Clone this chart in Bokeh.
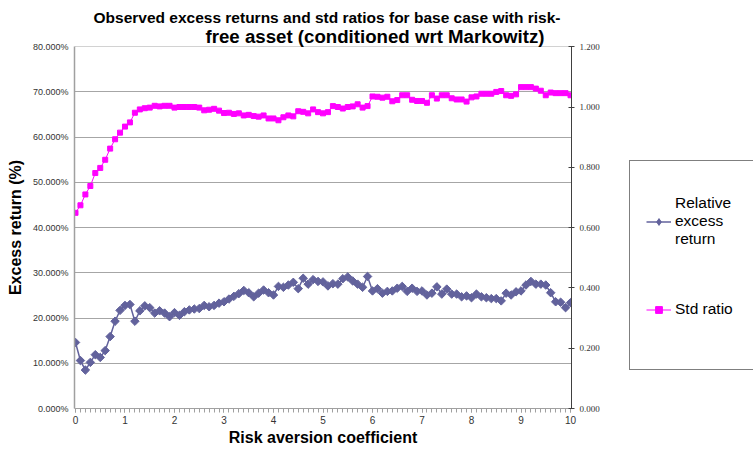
from bokeh.plotting import figure
from bokeh.layouts import row
from bokeh.models import (Range1d, LinearAxis, NumeralTickFormatter, Title, Legend,
                          LegendItem, ColumnDataSource, SingleIntervalTicker)
from bokeh.embed import file_html
from bokeh.resources import INLINE

# ---------------- data ----------------
risk_aversion = [0.0, 0.1, 0.2, 0.3, 0.4, 0.5, 0.6, 0.7, 0.8, 0.9,
                 1.0, 1.1, 1.2, 1.3, 1.4, 1.5, 1.6, 1.7, 1.8, 1.9,
                 2.0, 2.1, 2.2, 2.3, 2.4, 2.5, 2.6, 2.7, 2.8, 2.9,
                 3.0, 3.1, 3.2, 3.3, 3.4, 3.5, 3.6, 3.7, 3.8, 3.9,
                 4.0, 4.1, 4.2, 4.3, 4.4, 4.5, 4.6, 4.7, 4.8, 4.9,
                 5.0, 5.1, 5.2, 5.3, 5.4, 5.5, 5.6, 5.7, 5.8, 5.9,
                 6.0, 6.1, 6.2, 6.3, 6.4, 6.5, 6.6, 6.7, 6.8, 6.9,
                 7.0, 7.1, 7.2, 7.3, 7.4, 7.5, 7.6, 7.7, 7.8, 7.9,
                 8.0, 8.1, 8.2, 8.3, 8.4, 8.5, 8.6, 8.7, 8.8, 8.9,
                 9.0, 9.1, 9.2, 9.3, 9.4, 9.5, 9.6, 9.7, 9.8, 9.9, 10.0]

# relative excess return, in percent
excess_return_pct = [14.6, 10.6, 8.5, 10.2, 11.9, 11.3, 12.8, 15.9, 19.3, 21.7,
                     22.8, 23.0, 19.3, 21.6, 22.7, 22.3, 21.1, 21.6, 21.1, 20.3,
                     21.2, 20.6, 21.4, 21.8, 22.0, 22.1, 22.8, 22.5, 22.8, 23.3,
                     23.6, 24.2, 24.8, 25.4, 26.1, 25.6, 24.7, 25.5, 26.2, 25.6,
                     25.1, 27.0, 26.8, 27.3, 27.9, 26.5, 28.8, 27.5, 28.5, 28.1,
                     28.0, 27.1, 27.6, 27.5, 28.7, 29.1, 28.2, 27.5, 26.8, 29.2,
                     26.0, 26.5, 25.5, 25.9, 26.0, 26.6, 27.0, 25.9, 26.6, 25.9,
                     26.0, 25.1, 25.5, 26.9, 25.3, 26.4, 25.3, 25.3, 24.7, 24.9,
                     24.5, 25.3, 24.7, 24.5, 24.3, 24.3, 23.8, 25.5, 25.1, 25.8,
                     26.0, 27.3, 28.1, 27.5, 27.5, 27.3, 25.6, 23.6, 23.5, 22.3, 23.4]

std_ratio = [0.649, 0.674, 0.710, 0.738, 0.781, 0.798, 0.825, 0.862, 0.893, 0.915,
             0.935, 0.949, 0.981, 0.992, 0.996, 0.998, 1.004, 1.002, 1.004, 1.004,
             0.998, 1.000, 1.000, 1.000, 1.000, 0.998, 0.989, 0.991, 0.994, 0.988,
             0.980, 0.981, 0.977, 0.979, 0.972, 0.974, 0.970, 0.968, 0.972, 0.962,
             0.962, 0.956, 0.966, 0.972, 0.969, 0.986, 0.984, 0.979, 0.992, 0.983,
             0.979, 0.983, 1.003, 1.000, 0.995, 1.000, 1.002, 1.009, 0.998, 1.003,
             1.035, 1.034, 1.031, 1.034, 1.019, 1.023, 1.039, 1.039, 1.024, 1.020,
             1.020, 1.014, 1.039, 1.028, 1.039, 1.039, 1.029, 1.025, 1.025, 1.018,
             1.032, 1.035, 1.044, 1.044, 1.044, 1.050, 1.053, 1.039, 1.037, 1.042,
             1.066, 1.066, 1.066, 1.061, 1.054, 1.039, 1.048, 1.046, 1.046, 1.046, 1.039]

title_line1 = "Observed excess returns and std ratios for base case with risk-"
title_line2 = "free asset  (conditioned wrt Markowitz)"
x_title = "Risk aversion coefficient"
y_title = "Excess return (%)"
series_names = ["Relative\nexcess\nreturn", "Std ratio"]

BLUE = "#62629C"
PINK = "#FF00FF"
FONT = "Liberation Sans"

src = ColumnDataSource(dict(
    x=risk_aversion,
    ret=[v / 100.0 for v in excess_return_pct],
    std=std_ratio,
))

# ---------------- main figure ----------------
p = figure(width=605, height=449, output_backend="svg", toolbar_location=None,
           x_range=Range1d(-0.02, 10.02), y_range=Range1d(0, 0.8005),
           min_border_left=74, min_border_right=34, min_border_top=46,
           min_border_bottom=41)
p.outline_line_color = None
p.background_fill_color = "white"
p.border_fill_color = "white"
p.extra_y_ranges = {"std": Range1d(0, 1.2007)}

# x axis
xa = p.xaxis[0]
xa.ticker = SingleIntervalTicker(interval=1, num_minor_ticks=10)
xa.axis_line_color = "#A0A0A0"
xa.major_tick_line_color = "#A0A0A0"
xa.minor_tick_line_color = "#A0A0A0"
xa.major_tick_out = 4
xa.major_tick_in = 0
xa.minor_tick_out = 4
xa.minor_tick_in = 0
xa.major_label_standoff = 3
xa.major_label_text_font = FONT
xa.major_label_text_font_size = "10px"
xa.major_label_text_color = "#333333"
xa.axis_label = x_title
xa.axis_label_text_font = FONT
xa.axis_label_text_font_style = "bold"
xa.axis_label_text_font_size = "16px"
xa.axis_label_text_color = "black"
xa.axis_label_standoff = 2

# left axis
ya = p.yaxis[0]
ya.ticker = SingleIntervalTicker(interval=0.1, num_minor_ticks=0)
ya.formatter = NumeralTickFormatter(format="0.000%")
ya.axis_line_color = "#A0A0A0"
ya.axis_line_width = 1.5
ya.major_tick_line_color = None
ya.minor_tick_line_color = None
ya.major_tick_out = 0
ya.major_tick_in = 0
ya.major_label_standoff = 6
ya.major_label_text_font = FONT
ya.major_label_text_font_size = "9px"
ya.major_label_text_color = "#333333"
ya.axis_label = y_title
ya.axis_label_text_font = FONT
ya.axis_label_text_font_style = "bold"
ya.axis_label_text_font_size = "16px"
ya.axis_label_text_color = "black"
ya.axis_label_standoff = 6

# right axis
ra = LinearAxis(y_range_name="std", ticker=SingleIntervalTicker(interval=0.2, num_minor_ticks=0),
                formatter=NumeralTickFormatter(format="0.000"))
ra.axis_line_color = "#404040"
ra.major_tick_line_color = "#404040"
ra.major_tick_in = 3
ra.major_tick_out = 3
ra.minor_tick_line_color = None
ra.major_label_standoff = 5
ra.major_label_text_font = "Liberation Serif"
ra.major_label_text_font_size = "9px"
ra.major_label_text_color = "#333333"
p.add_layout(ra, "right")

p.xgrid.grid_line_color = None
p.ygrid.grid_line_color = "#A6A6A6"
p.ygrid.grid_line_width = 1

# series
bl = p.line("x", "ret", source=src, line_color=BLUE, line_width=1.5)
bm = p.scatter("x", "ret", source=src, marker="square", angle=0.785, size=6,
               fill_color=BLUE, line_color=BLUE)
pl = p.line("x", "std", source=src, y_range_name="std", line_color=PINK, line_width=1)
pm = p.scatter("x", "std", source=src, y_range_name="std", marker="square", size=5,
               fill_color=PINK, line_color=PINK)

# titles (first added sits closest to the plot)
p.add_layout(Title(text=title_line2, align="left", offset=131, standoff=-1,
                   text_font=FONT, text_font_style="bold", text_font_size="14pt",
                   text_color="black"), "above")
p.add_layout(Title(text=title_line1, align="left", offset=19, standoff=-2,
                   text_font=FONT, text_font_style="bold", text_font_size="15.5px",
                   text_color="black"), "above")

# ---------------- legend panel (second figure) ----------------
# the legend glyphs use the same source, but this panel's ranges show none of the data
q = figure(width=148, height=449, output_backend="svg", toolbar_location=None,
           x_range=Range1d(-100, -99), y_range=Range1d(-100, -99),
           x_axis_location=None, y_axis_location=None, min_border=0)
q.outline_line_color = None
q.grid.grid_line_color = None
q.background_fill_color = "white"
q.border_fill_color = "white"
qbl = q.line("x", "ret", source=src, line_color=BLUE, line_width=1.5)
qbm = q.scatter("x", "ret", source=src, marker="diamond", size=8,
                fill_color=BLUE, line_color=BLUE)
qpl = q.line("x", "std", source=src, line_color=PINK, line_width=1)
qpm = q.scatter("x", "std", source=src, marker="square", size=5,
                fill_color=PINK, line_color=PINK)

legend = Legend(items=[LegendItem(label=series_names[0], renderers=[qbl, qbm]),
                       LegendItem(label=series_names[1], renderers=[qpl, qpm])],
                location=(24, 38), orientation="vertical")
legend.border_line_color = "black"
legend.border_line_width = 1
legend.background_fill_color = "white"
legend.padding = 16
legend.spacing = 0
legend.margin = 0
legend.glyph_width = 25
legend.glyph_height = 17
legend.label_height = 88
legend.label_width = 80
legend.label_standoff = 4
legend.label_text_font = FONT
legend.label_text_font_size = "15.5px"
legend.label_text_color = "black"
q.add_layout(legend, "center")

layout = row(p, q, spacing=0)
open("out.html", "w").write(file_html(layout, INLINE))
